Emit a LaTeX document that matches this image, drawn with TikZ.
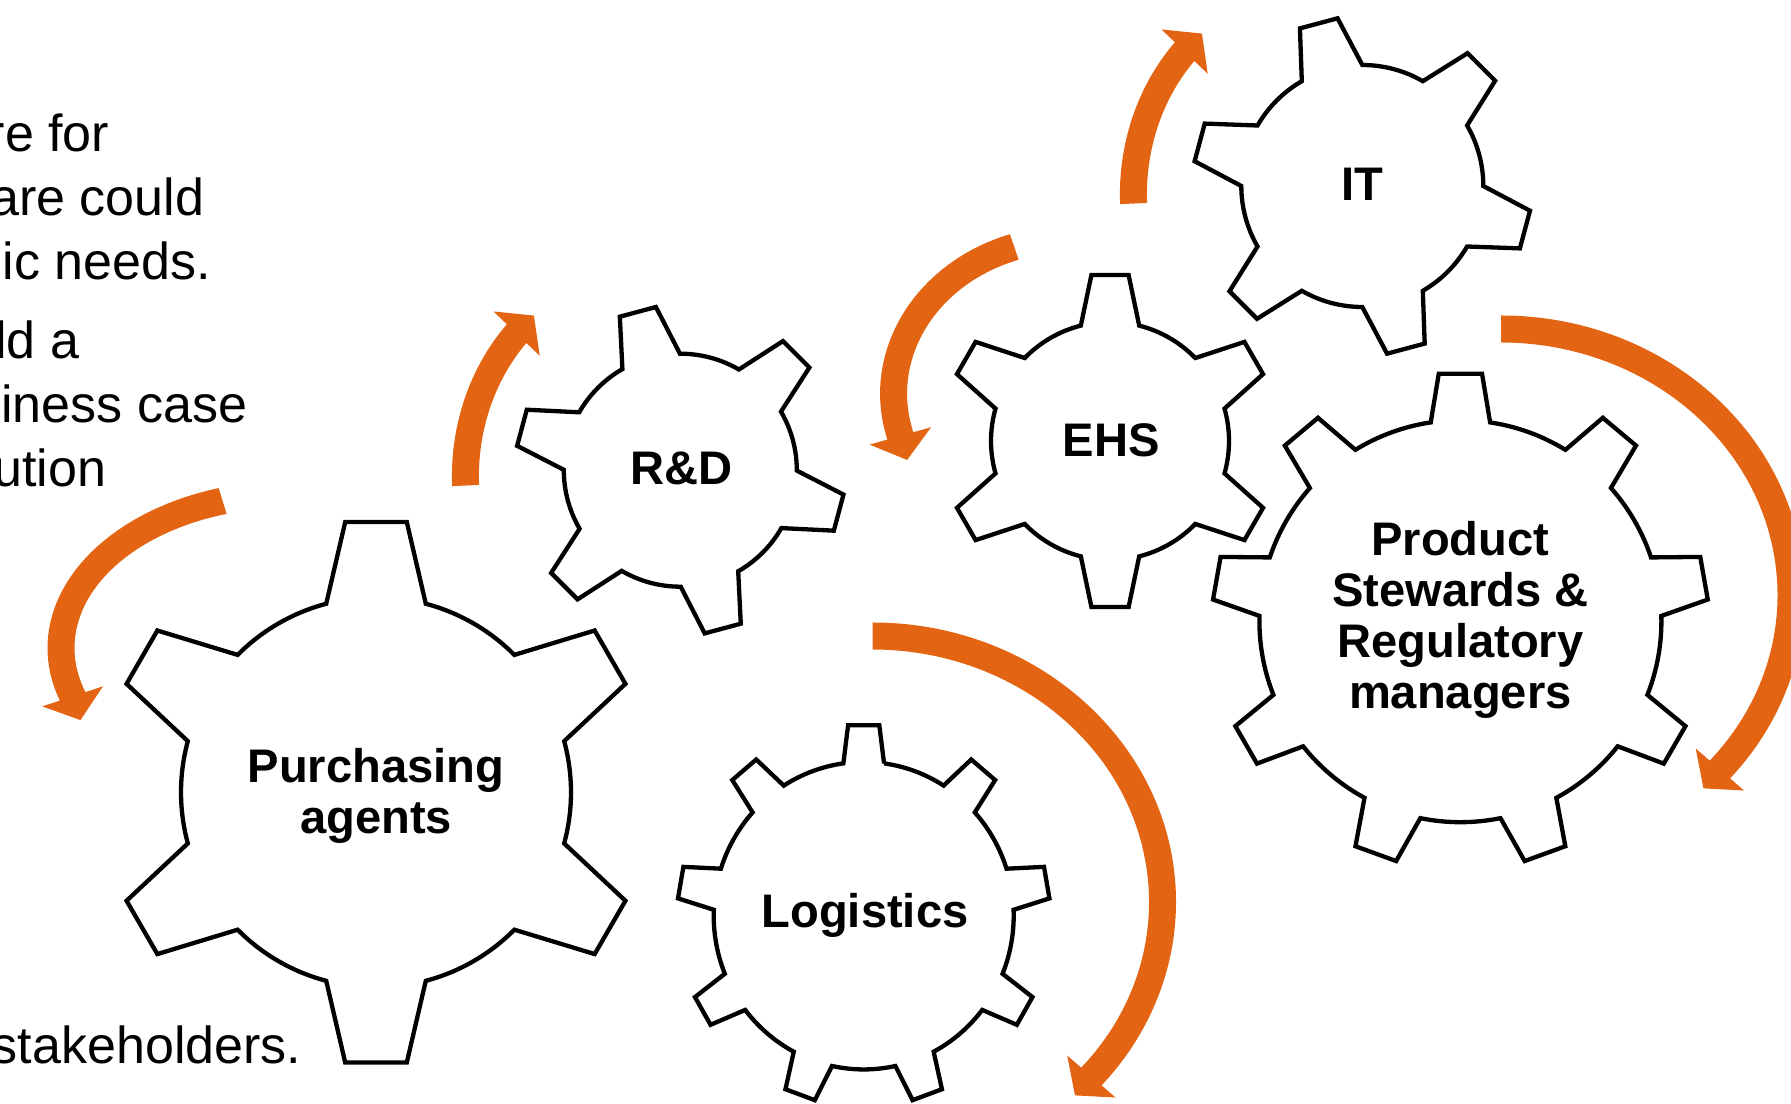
\documentclass[tikz,border=0pt]{standalone}
\usepackage{fontspec}
\setmainfont{Liberation Sans}
\usetikzlibrary{calc}
\definecolor{flowcolor}{RGB}{227,100,18}

% Curved flow arrow along an elliptical arc.
% #1,#2 centre; #3,#4 radii of the band's middle line; #5 start angle; #6 end angle;
% #7 = 90 for counter-clockwise travel, -90 for clockwise travel.
\newcommand{\flowarrow}[7]{%
  \coordinate (fa-c) at (#1,#2);
  \coordinate (fa-o) at ($(fa-c)+({(#3+32)*cos(#6)},{(#4+32)*sin(#6)})$);
  \coordinate (fa-i) at ($(fa-c)+({(#3-32)*cos(#6)},{(#4-32)*sin(#6)})$);
  \coordinate (fa-m) at ($(fa-c)+({#3*cos(#6)},{#4*sin(#6)})$);
  \coordinate (fa-t) at ($(fa-m)!0.25cm!#7:(fa-o)$);
  \fill[bandfill] ($(fa-c)+({(#3+13.5)*cos(#5)},{(#4+13.5)*sin(#5)})$)
    arc[start angle=#5, end angle=#6, x radius={#3+13.5}, y radius={#4+13.5}]
    -- (fa-o) -- (fa-t) -- (fa-i)
    -- ($(fa-c)+({(#3-13.5)*cos(#6)},{(#4-13.5)*sin(#6)})$)
    arc[start angle=#6, end angle=#5, x radius={#3-13.5}, y radius={#4-13.5}]
    -- cycle;
}

\tikzset{
  bandfill/.style={fill=flowcolor},
  gearline/.style={draw=black, line width=0.43mm, line join=miter},
  gearlabel/.style={font=\fontsize{13.4}{14.5}\selectfont\bfseries, align=center, inner sep=0pt},
  sidetext/.style={font=\fontsize{14.8}{17.8}\selectfont, inner sep=0pt, anchor=base east},
  % gear outline: #1 teeth, #2 tip radius, #3 root radius,
  % #4 half angle of a tooth tip, #5 half angle of a tooth root, #6 angle of first tooth
  pics/gear/.style n args={6}{code={
    \draw[gearline] ({#6-#5}:#3)
      \foreach \k [evaluate=\k as \a using #6+(\k-1)*360/#1] in {1,...,#1}{
        -- ({\a-#4}:#2) -- ({\a+#4}:#2) -- ({\a+#5}:#3)
        arc[start angle={\a+#5}, end angle={\a+360/#1-#5}, radius=#3]
      } -- cycle;
  }},
}

\begin{document}
\begin{tikzpicture}[x=0.01cm, y=0.01cm]
\useasboundingbox (0,0) rectangle (1791,-1104);
\clip (0,0) rectangle (1791,-1104);

% text running in from the left margin
\node[sidetext] (line1) at (110,-152) {re for};
\node[sidetext] (line2) at (205,-216) {are could};
\node[sidetext] (line3) at (212,-280) {ic needs.};
\node[sidetext] (line4) at (80,-359) {ld a};
\node[sidetext] (line5) at (248,-423) {iness case};
\node[sidetext] (line6) at (107,-487) {ution};
\node[sidetext] (line7) at (302,-1063) {stakeholders.};

% orange rotation arrows
\flowarrow{291}{-648}{230}{154}{107.3}{198.3}{90}
\flowarrow{649.4}{-476.2}{184}{206}{182.6}{136.2}{-90}
\flowarrow{1317.4}{-194.2}{184}{206}{182.6}{136.2}{-90}
\flowarrow{1071.6}{-393.7}{178}{155}{108.8}{195.8}{90}
\flowarrow{872.5}{-902}{290}{266}{90}{-41}{-90}
\flowarrow{1501}{-595}{290}{266}{90}{-41}{-90}

% gears
\pic (purchgear) at (376,-792.3) {gear={6}{272}{195}{6.5}{14.8}{90}};
\pic (rdgear) at (680.3,-470.2) {gear={6}{165}{116.5}{6.5}{14.8}{105}};
\pic (ehsgear) at (1110,-441) {gear={6}{167}{119}{6.4}{14.2}{90}};
\pic (itgear) at (1362.3,-186) {gear={6}{169.5}{121}{6.6}{15}{105}};
\pic (psgear) at (1460.4,-621.2) {gear={9}{248.3}{201}{5}{8.5}{90}};
\pic[yscale=1.025] (logigear) at (863.7,-915.7) {gear={9}{186.5}{150}{4.8}{7.8}{90}};

% gear labels
\node[gearlabel] (purchasing) at (376,-795.5) {Purchasing\\agents};
\node[gearlabel, anchor=base] (rd) at (681.5,-485) {R\&D};
\node[gearlabel, anchor=base] (ehs) at (1111,-456.7) {EHS};
\node[gearlabel, anchor=base] (it) at (1362.5,-201) {IT};
\node[gearlabel] (stewards) at (1460.4,-619.8) {Product\\Stewards \&\\Regulatory\\managers};
\node[gearlabel, anchor=base] (logistics) at (865,-927.3) {Logistics};
\end{tikzpicture}
\end{document}
